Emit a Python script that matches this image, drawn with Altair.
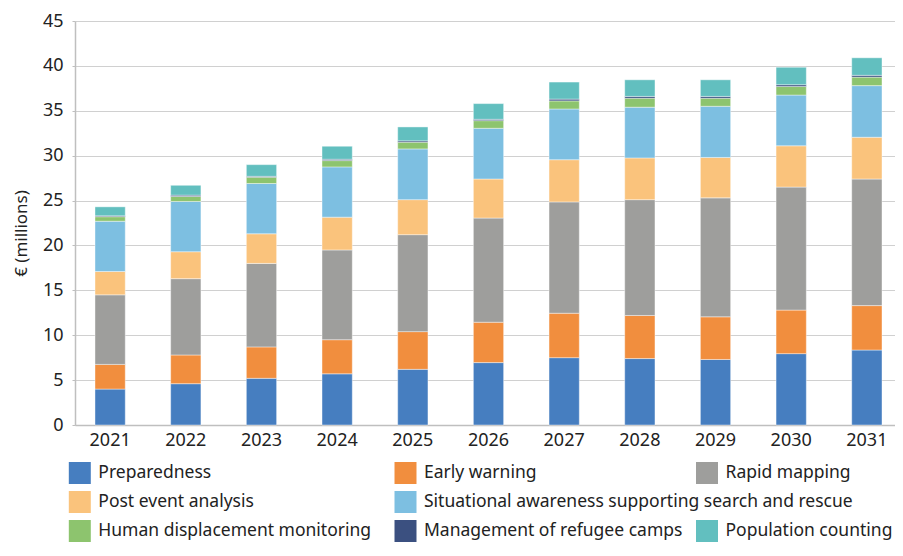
import altair as alt
import pandas as pd

years = ["2021", "2022", "2023", "2024", "2025", "2026", "2027", "2028", "2029", "2030", "2031"]

series_names = [
    "Preparedness",
    "Early warning",
    "Rapid mapping",
    "Post event analysis",
    "Situational awareness supporting search and rescue",
    "Human displacement monitoring",
    "Management of refugee camps",
    "Population counting",
]
series_colors = ["#467EC0", "#F18E3E", "#9E9E9C", "#FAC37C", "#7DBFE1", "#8DC46E", "#3B5080", "#62BFBF"]

preparedness = [4.0, 4.6, 5.2, 5.7, 6.2, 6.95, 7.5, 7.4, 7.3, 7.95, 8.35]
early_warning = [2.75, 3.2, 3.5, 3.8, 4.2, 4.5, 4.95, 4.8, 4.75, 4.85, 4.95]
rapid_mapping = [7.75, 8.5, 9.3, 10.0, 10.8, 11.6, 12.4, 12.9, 13.25, 13.7, 14.1]
post_event = [2.6, 3.0, 3.3, 3.65, 3.9, 4.35, 4.7, 4.65, 4.5, 4.6, 4.65]
situational = [5.6, 5.6, 5.6, 5.6, 5.65, 5.65, 5.65, 5.65, 5.7, 5.65, 5.75]
displacement = [0.5, 0.55, 0.7, 0.7, 0.75, 0.85, 0.9, 1.0, 0.9, 0.95, 0.95]
refugee_camps = [0.1, 0.15, 0.1, 0.15, 0.15, 0.15, 0.2, 0.2, 0.2, 0.2, 0.2]
population = [1.0, 1.1, 1.3, 1.45, 1.55, 1.75, 1.9, 1.85, 1.85, 1.95, 1.95]

series_values = [preparedness, early_warning, rapid_mapping, post_event,
                 situational, displacement, refugee_camps, population]

# legend grid: 3 columns, 3 rows (row-major like the reference)
legend_col = [0, 1, 2, 0, 1, 0, 1, 2]
legend_row = [0, 0, 0, 1, 1, 2, 2, 2]

FONT = "Noto Sans"

rows = []
for i, (name, vals) in enumerate(zip(series_names, series_values)):
    for y, v in zip(years, vals):
        rows.append({"year": y, "series": name, "value": v, "idx": i})
df = pd.DataFrame(rows)

leg = pd.DataFrame({"series": series_names, "col": legend_col, "row": legend_row,
                    "idx": list(range(len(series_names)))})

color_scale = alt.Scale(domain=series_names, range=series_colors)

bars = alt.Chart(df).mark_bar(stroke="#ffffff", strokeWidth=0.6, strokeOpacity=0.7).encode(
    x=alt.X("year:N", sort=years, title=None,
            scale=alt.Scale(paddingInner=0.6, paddingOuter=0.218, align=0.606),
            axis=alt.Axis(labelAngle=0, labelFontSize=18, labelFont=FONT, labelColor="#222222",
                          ticks=False, domainColor="#BFBFBF", domainWidth=1.5, labelPadding=6,
                          grid=False)),
    y=alt.Y("value:Q", stack="zero", title="€ (millions)",
            scale=alt.Scale(domain=[0, 45], nice=False),
            axis=alt.Axis(values=list(range(0, 50, 5)), labelFontSize=18, labelFont=FONT,
                          labelColor="#222222", tickSize=3, tickColor="#BFBFBF",
                          domainColor="#BFBFBF", domainWidth=1.5, gridColor="#D0D0D0",
                          gridWidth=1.2, labelPadding=9, titleFont=FONT, titleFontSize=17,
                          titleFontWeight="normal", titleColor="#222222", titleAngle=270,
                          titleBaseline="middle", titleX=-54, titleY=212)),
    color=alt.Color("series:N", scale=color_scale, legend=None),
    order=alt.Order("idx:Q", sort="ascending"),
)

leg_x = alt.X("col:Q", axis=None,
              scale=alt.Scale(domain=[0, 1, 2], range=[4.8, 330.5, 632]))
leg_y = alt.Y("row:Q", axis=None,
              scale=alt.Scale(domain=[0, 2], range=[452, 510]))

leg_sq = alt.Chart(leg).mark_point(shape="square", filled=True, size=484, opacity=1).encode(
    x=leg_x, y=leg_y,
    color=alt.Color("series:N", scale=color_scale, legend=None),
)
leg_txt = alt.Chart(leg).mark_text(align="left", baseline="middle", dx=18.5, fontSize=17.5,
                                   font=FONT, color="#222222").encode(
    x=leg_x, y=leg_y, text="series:N",
)

chart = alt.layer(bars, leg_sq, leg_txt).resolve_scale(
    x="independent", y="independent"
).properties(
    width=820, height=404,
    padding={"left": 67, "top": 13, "right": 0, "bottom": 118},
    autosize=alt.AutoSizeParams(type="none"),
).configure_view(stroke=None)

chart.save("out.html", embed_options={"renderer": "svg", "actions": False})
